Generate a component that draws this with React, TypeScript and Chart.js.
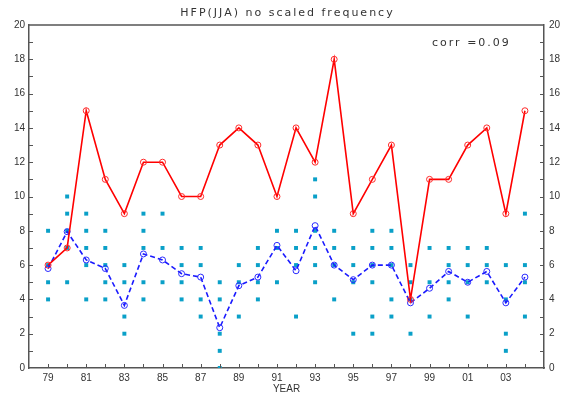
import React, { useEffect, useRef } from "react";
import { Chart, registerables } from "chart.js";

Chart.register(...registerables);

// ---- data ----
const years = [
  1979, 1980, 1981, 1982, 1983, 1984, 1985, 1986, 1987, 1988, 1989, 1990, 1991,
  1992, 1993, 1994, 1995, 1996, 1997, 1998, 1999, 2000, 2001, 2002, 2003, 2004,
];
const hfpCount = [6, 7, 15, 11, 9, 12, 12, 10, 10, 13, 14, 13, 10, 14, 12, 18, 9, 11, 13, 4, 11, 11, 13, 14, 9, 15];
const memberMean = [
  5.8, 7.95, 6.3, 5.8, 3.65, 6.65, 6.3, 5.5, 5.3, 2.35, 4.8, 5.3, 7.15, 5.67,
  8.3, 6.0, 5.15, 6.0, 6.0, 3.8, 4.65, 5.63, 5.0, 5.63, 3.8, 5.3,
];
const memberValues: number[][] = [
  [8, 6, 5, 4],
  [10, 9, 8, 7, 5],
  [9, 8, 7, 6, 4],
  [8, 7, 6, 5, 4],
  [6, 5, 3, 2],
  [9, 8, 7, 5, 4],
  [9, 7, 5],
  [7, 6, 5, 4],
  [7, 6, 4, 3],
  [5, 4, 2, 1, 0],
  [6, 5, 3],
  [7, 6, 5, 4],
  [8, 7, 5],
  [8, 7, 6, 3],
  [11, 10, 8, 7, 6, 5],
  [8, 7, 6, 4],
  [7, 6, 5, 2],
  [8, 7, 6, 5, 3, 2],
  [8, 7, 6, 4, 3],
  [6, 5, 4, 2],
  [7, 5, 3],
  [7, 6, 5, 4],
  [7, 6, 5, 3],
  [7, 6, 5],
  [6, 4, 2, 1],
  [9, 6, 5, 3],
];
const titleText = "HFP(JJA) no scaled frequency";
const corrText = "corr =0.09";
const xTitle = "YEAR";

const AXIS_COLOR = "#555555";
const TEXT_COLOR = "#333333";
const TICK_FONT = { family: "'Liberation Sans', Arial, sans-serif", size: 10 };

const framePlugin = {
  id: "frame",
  afterDraw(chart: any) {
    const { ctx, chartArea, scales } = chart;
    ctx.save();
    ctx.strokeStyle = AXIS_COLOR;
    ctx.lineWidth = 1.5;
    ctx.beginPath();
    ctx.moveTo(chartArea.left, chartArea.top);
    ctx.lineTo(chartArea.right, chartArea.top);
    ctx.stroke();
    ctx.lineWidth = 1;
    ctx.beginPath();
    for (let v = 1; v < 20; v++) {
      const py = Math.round(scales.y.getPixelForValue(v)) + 0.5;
      ctx.moveTo(chartArea.left, py);
      ctx.lineTo(chartArea.left + 4, py);
      ctx.moveTo(chartArea.right, py);
      ctx.lineTo(chartArea.right - 4, py);
    }
    for (const yr of years) {
      const px = Math.round(scales.x.getPixelForValue(yr)) + 0.5;
      ctx.moveTo(px, chartArea.bottom);
      ctx.lineTo(px, chartArea.bottom - 4);
    }
    ctx.stroke();

    ctx.fillStyle = TEXT_COLOR;
    ctx.font = "11px 'DejaVu Sans'";
    (ctx as any).letterSpacing = "2px";
    ctx.textAlign = "center";
    ctx.textBaseline = "middle";
    ctx.fillText(titleText, (chartArea.left + chartArea.right) / 2 + 1, 13);
    ctx.textAlign = "left";
    ctx.fillText(corrText, chartArea.right - 112, 43);
    ctx.restore();
  },
};

const yTickCb = (v: any) => {
  const n = Number(v);
  return n % 2 === 0 ? String(n) : "";
};
const xTickCb = (v: any) => {
  const n = Number(v);
  return n % 2 === 1 && n >= 1979 && n <= 2003 ? String(n % 100).padStart(2, "0") : "";
};

export default function App() {
  const ref = useRef<HTMLCanvasElement | null>(null);
  useEffect(() => {
    document.body.style.margin = "0";
    const canvas = ref.current;
    if (!canvas) return;
    const memberPoints: { x: number; y: number }[] = [];
    years.forEach((yr, i) => memberValues[i].forEach((val) => memberPoints.push({ x: yr, y: val })));
    const chart = new Chart(canvas, {
      type: "line",
      data: {
        datasets: [
          {
            label: "HFP",
            data: years.map((x, i) => ({ x, y: hfpCount[i] })),
            borderColor: "#ff0000",
            borderWidth: 1.6,
            pointStyle: "circle",
            pointRadius: 3,
            pointBorderColor: "#ff2a2a",
            pointBackgroundColor: "rgba(0,0,0,0)",
            pointBorderWidth: 1,
            tension: 0,
            fill: false,
          },
          {
            label: "mean",
            data: years.map((x, i) => ({ x, y: memberMean[i] })),
            borderColor: "#1a1aff",
            borderWidth: 1.6,
            borderDash: [5, 3],
            pointStyle: "circle",
            pointRadius: 3,
            pointBorderColor: "#2a2aff",
            pointBackgroundColor: "rgba(0,0,0,0)",
            pointBorderWidth: 1,
            tension: 0,
            fill: false,
          },
          {
            label: "members",
            data: memberPoints,
            showLine: false,
            pointStyle: "rect",
            pointRadius: 2.8,
            pointBackgroundColor: "#0aa0c8",
            pointBorderColor: "#0aa0c8",
            pointBorderWidth: 0,
            borderColor: "#0aa0c8",
          },
        ],
      } as any,
      options: {
        animation: false,
        responsive: false,
        devicePixelRatio: 1,
        layout: { padding: { top: 25, left: 0, right: 0, bottom: 0 } },
        plugins: { legend: { display: false }, tooltip: { enabled: false }, title: { display: false } },
        scales: {
          x: {
            type: "linear",
            position: "bottom",
            min: 1978,
            max: 2005,
            grid: { display: false, drawTicks: false },
            border: { display: true, color: AXIS_COLOR, width: 1.5 },
            ticks: {
              stepSize: 1,
              autoSkip: false,
              maxRotation: 0,
              minRotation: 0,
              padding: 4,
              font: TICK_FONT,
              color: TEXT_COLOR,
              callback: xTickCb,
            },
            title: {
              display: true,
              text: xTitle,
              color: TEXT_COLOR,
              font: TICK_FONT,
              padding: { top: 0, bottom: 0 },
            },
            afterFit: (s: any) => {
              s.height = 27;
            },
          },
          y: {
            type: "linear",
            position: "left",
            min: 0,
            max: 20,
            grid: { display: false, drawTicks: false },
            border: { display: true, color: AXIS_COLOR, width: 1.5 },
            ticks: { stepSize: 1, autoSkip: false, padding: 4, font: TICK_FONT, color: TEXT_COLOR, callback: yTickCb },
            afterFit: (s: any) => {
              s.width = 29;
            },
          },
          y2: {
            type: "linear",
            position: "right",
            min: 0,
            max: 20,
            grid: { display: false, drawTicks: false },
            border: { display: true, color: AXIS_COLOR, width: 1.5 },
            ticks: { stepSize: 1, autoSkip: false, padding: 5, font: TICK_FONT, color: TEXT_COLOR, callback: yTickCb },
            afterFit: (s: any) => {
              s.width = 26;
            },
          },
        },
      } as any,
      plugins: [framePlugin],
    });
    return () => chart.destroy();
  }, []);
  return <canvas ref={ref} width={570} height={395} style={{ display: "block" }} />;
}
